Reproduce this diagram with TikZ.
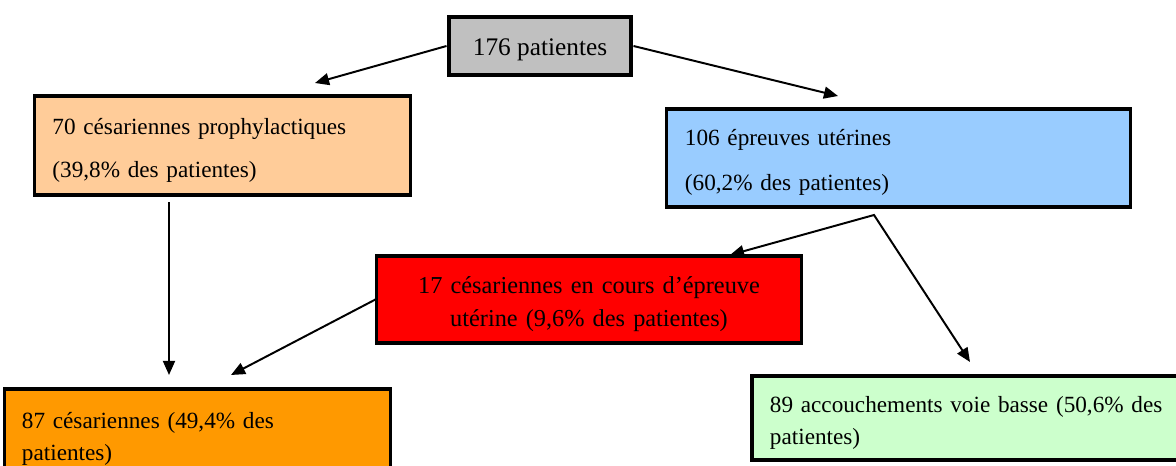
\documentclass[tikz,border=0pt]{standalone}
\usepackage{fontspec}
\setmainfont{Liberation Serif}
\usetikzlibrary{arrows.meta}

\definecolor{grisbox}{HTML}{C0C0C0}
\definecolor{orangeclair}{HTML}{FFCC99}
\definecolor{bleuclair}{HTML}{99CCFF}
\definecolor{rougevif}{HTML}{FF0000}
\definecolor{orangevif}{HTML}{FF9900}
\definecolor{vertclair}{HTML}{CCFFCC}

\tikzset{
  pointe/.tip={Triangle[length=10pt,width=8.5pt]},
  boite/.style={draw=black,rectangle,line width=2.2pt,inner xsep=0.43cm,inner ysep=0pt,
    text height=18pt,align=left},
  fleche/.style={line width=1.4pt,-pointe}
}

\begin{document}
\begin{tikzpicture}[x=0.025cm,y=-0.025cm]

\useasboundingbox (0,0) rectangle (1176,466);

\node[boite,fill=grisbox,line width=3.5pt,minimum width=4.55cm,minimum height=1.45cm,align=center,
  font=\fontsize{18}{22}\selectfont] (total) at (540,46) {176 patientes};

\node[boite,fill=orangeclair,minimum width=9.375cm,minimum height=2.475cm,text width=8.5cm,
  font=\fontsize{16.5}{30.5}\selectfont] (proph) at (222.5,145.5)
  {70 césariennes prophylactiques\\(39,8\% des patientes)};

\node[boite,fill=bleuclair,minimum width=11.575cm,minimum height=2.45cm,text width=10.675cm,
  font=\fontsize{16.5}{32}\selectfont] (epreuve) at (898.5,158)
  {106 épreuves utérines\\(60,2\% des patientes)};

\node[boite,fill=rougevif,minimum width=10.6cm,minimum height=2.175cm,text width=9.5cm,align=center,
  font=\fontsize{17.3}{23.5}\selectfont] (cours) at (589,299.5)
  {17 césariennes en cours d’épreuve\\utérine (9,6\% des patientes)};

\node[boite,fill=orangevif,minimum width=9.525cm,minimum height=2.25cm,text width=8.775cm,
  font=\fontsize{16.5}{22.8}\selectfont] (cesar) at (197.5,434)
  {87 césariennes (49,4\% des\\patientes)};

\node[boite,fill=vertclair,minimum width=11.1cm,minimum height=2.1cm,text width=10.2cm,
  font=\fontsize{16.5}{22.8}\selectfont] (voie) at (974,418)
  {89 accouchements voie basse (50,6\% des\\patientes)};

\coordinate (p1) at (315,83);
\coordinate (p2) at (838,96);
\coordinate (v0) at (169,202);
\coordinate (v1) at (169,375);
\coordinate (p4) at (231,375);
\coordinate (fourche) at (874,215);
\coordinate (p5) at (730,255);
\coordinate (p6) at (970,362);

\draw[fleche] (total.west) -- (p1);
\draw[fleche] (total.east) -- (p2);
\draw[fleche] (v0) -- (v1);
\draw[fleche] (cours.west) -- (p4);
\draw[line width=1.4pt,pointe-pointe] (p5) -- (fourche) -- (p6);

\end{tikzpicture}
\end{document}
